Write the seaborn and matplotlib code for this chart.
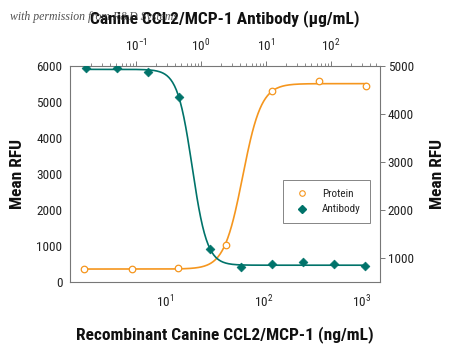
import numpy as np
import pandas as pd
import matplotlib
matplotlib.use("Agg")
import matplotlib.pyplot as plt
from matplotlib import font_manager
from matplotlib.lines import Line2D
from matplotlib.ticker import LogLocator, NullFormatter, FixedLocator, LogFormatterSciNotation
import seaborn as sns

# ---------------- data ----------------
protein_conc = [1.52, 4.57, 13.7, 41.2, 123, 370, 1111]          # ng/mL (bottom axis)
protein_rfu = [350, 350, 400, 1030, 5315, 5580, 5450]            # left axis
antibody_conc = [0.0169, 0.0508, 0.152, 0.457, 1.37, 4.12, 12.3, 37.0, 111, 333]  # ug/mL (top axis)
antibody_rfu = [4952, 4952, 4881, 4348, 1188, 819, 881, 923, 881, 833]            # right axis

# 4-parameter logistic fit parameters
protein_fit = dict(bottom=360, top=5510, mid=61.5, hill=4.6)
antibody_fit = dict(bottom=850, top=4930, mid=0.733, hill=3.8)

left_yticks = [0, 1000, 2000, 3000, 4000, 5000, 6000]
right_yticks = [1000, 2000, 3000, 4000, 5000]
top_xticks = [0.1, 1, 10, 100]
bottom_xticks = [10, 100, 1000]

ORANGE = "#F5961E"
TEAL = "#00736A"

sns.set_theme(style="white")
avail = {f.name for f in font_manager.fontManager.ttflist}
narrow = "DejaVu Sans"
for cand in ["Roboto Condensed", "Liberation Sans Narrow", "Open Sans Condensed", "Lato", "Roboto"]:
    if cand in avail:
        narrow = cand
        break
plt.rcParams["font.family"] = [narrow, "DejaVu Sans"]
plt.rcParams["mathtext.fontset"] = "custom"
plt.rcParams["mathtext.rm"] = narrow
plt.rcParams["mathtext.default"] = "regular"

fig = plt.figure(figsize=(4.5, 3.45), dpi=100)
pos = [70 / 450, 1 - 282 / 345, 310 / 450, 216 / 345]
ax = fig.add_axes(pos)
ax2 = fig.add_axes(pos, frameon=False)


def logistic_up(x, p):
    return p["bottom"] + (p["top"] - p["bottom"]) / (1 + (p["mid"] / x) ** p["hill"])


def logistic_down(x, p):
    return p["bottom"] + (p["top"] - p["bottom"]) / (1 + (x / p["mid"]) ** p["hill"])


# protein (bottom / left)
xp = np.logspace(np.log10(protein_conc[0]), np.log10(protein_conc[-1]), 300)
sns.lineplot(x=xp, y=logistic_up(xp, protein_fit), ax=ax, color=ORANGE, lw=1.2)
sns.scatterplot(x=protein_conc, y=protein_rfu, ax=ax, marker="o", s=22,
                facecolor="white", edgecolor=ORANGE, linewidth=0.9, zorder=5)

# antibody (top / right)
xa = np.logspace(np.log10(antibody_conc[0]), np.log10(antibody_conc[-1]), 300)
sns.lineplot(x=xa, y=logistic_down(xa, antibody_fit), ax=ax2, color=TEAL, lw=1.2)
sns.scatterplot(x=antibody_conc, y=antibody_rfu, ax=ax2, marker="D", s=20,
                color=TEAL, edgecolor=TEAL, linewidth=0.5, zorder=5)

ax.set_xscale("log")
ax.set_xlim(1.085, 1524)
ax.set_ylim(0, 6000)
ax.set_yticks(left_yticks)
ax2.set_xscale("log")
ax2.set_xlim(0.00966, 567)
ax2.set_ylim(500, 5000)
ax2.set_yticks(right_yticks)

ax2.xaxis.set_ticks_position("top")
ax2.xaxis.set_label_position("top")
ax2.yaxis.set_ticks_position("right")
ax2.yaxis.set_label_position("right")

for a, maj in ((ax, bottom_xticks), (ax2, top_xticks)):
    a.xaxis.set_major_locator(FixedLocator(maj))
    a.xaxis.set_major_formatter(LogFormatterSciNotation())
    a.xaxis.set_minor_locator(LogLocator(base=10, subs=np.arange(2, 10)))
    a.xaxis.set_minor_formatter(NullFormatter())
    a.tick_params(axis="both", which="major", direction="out", length=3.5, width=0.7,
                  color="#777777", labelsize=9.5, pad=2, labelcolor="#222222")
    a.tick_params(axis="x", which="major", pad=5)
    a.tick_params(axis="x", which="minor", direction="out", length=2, width=0.6,
                  color="#777777")
    a.set_xlabel("")
    a.set_ylabel("")

for s in ax.spines.values():
    s.set_color("#777777")
    s.set_linewidth(0.8)

lab = dict(fontsize=12.5, fontweight="bold", color="#111111")
ax.set_xlabel("Recombinant Canine CCL2/MCP-1 (ng/mL)", labelpad=11, **lab)
ax.set_ylabel("Mean RFU", labelpad=8, **lab)
ax2.set_ylabel("Mean RFU", labelpad=12, **lab)
ax2.set_xlabel("Canine CCL2/MCP-1 Antibody (\u03bcg/mL)", labelpad=10, **lab)

handles = [
    Line2D([], [], marker="o", ls="none", markerfacecolor="white", markeredgecolor=ORANGE,
           markersize=4, markeredgewidth=0.8, label="Protein"),
    Line2D([], [], marker="D", ls="none", color=TEAL, markersize=3.6, label="Antibody"),
]
leg = ax2.legend(handles=handles, loc="upper left", bbox_to_anchor=(213 / 310, 1 - 114 / 216),
                 fontsize=8, frameon=True, fancybox=False, edgecolor="#666666",
                 handletextpad=0.9, borderpad=0.8, labelspacing=0.5, handlelength=1.8,
                 borderaxespad=0)
leg.get_frame().set_linewidth(0.7)

fig.text(10 / 450, 1 - 17 / 345, "with permission from R&D Systems", fontsize=8.5,
         family=["Liberation Serif", "DejaVu Serif"], style="italic", color="#333333",
         va="center", ha="left", alpha=0.85, zorder=10)

fig.savefig("out.png", dpi=100)
